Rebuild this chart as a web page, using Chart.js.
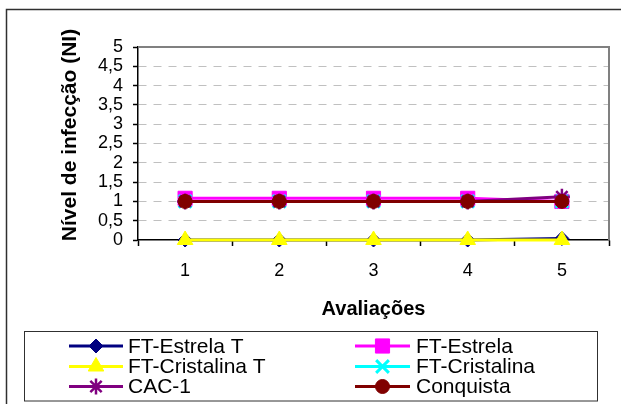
<!DOCTYPE html>
<html>
<head>
<meta charset="utf-8">
<script src="https://cdn.jsdelivr.net/npm/chart.js@4"></script>
<style>
  html, body { margin: 0; padding: 0; background: #fff; }
  #wrap { width: 621px; height: 404px; position: relative; }
</style>
</head>
<body>
<div id="wrap"><canvas id="c" width="621" height="404"></canvas></div>
<script>
// Avaliações (evaluation rounds)
const avaliacoes = ['1', '2', '3', '4', '5'];

// Nível de infecção (NI) per cultivar / treatment
const ftEstrelaT    = [0, 0, 0, 0, 0.04];
const ftEstrela     = [1.08, 1.08, 1.08, 1.08, 1.0];
const ftCristalinaT = [0, 0, 0, 0, 0];
const ftCristalina  = [1, 1, 1, 1, 1];
const cac1          = [1, 1, 1, 1, 1.12];
const conquista     = [1, 1, 1, 1, 1];

const seriesNames = ['FT-Estrela T', 'FT-Estrela', 'FT-Cristalina T', 'FT-Cristalina', 'CAC-1', 'Conquista'];
const yTickLabels = ['0', '0,5', '1', '1,5', '2', '2,5', '3', '3,5', '4', '4,5', '5'];
const xTitle = 'Avaliações';
const yTitle = 'Nível de infecção (NI)';

const FONT = "'Liberation Sans', Arial, sans-serif";

const styles = [
  { color: '#000080', pointStyle: 'rectRot',  radius: 7,  pbw: 1 },
  { color: '#FF00FF', pointStyle: 'rect',     radius: 10, pbw: 1 },
  { color: '#FFFF00', pointStyle: 'triangle', radius: 9,  pbw: 1 },
  { color: '#00FFFF', pointStyle: 'crossRot', radius: 9,  pbw: 3 },
  { color: '#800080', pointStyle: 'star',     radius: 8,  pbw: 2.5 },
  { color: '#800000', pointStyle: 'circle',   radius: 7,  pbw: 1 }
];
const values = [ftEstrelaT, ftEstrela, ftCristalinaT, ftCristalina, cac1, conquista];

const datasets = values.map((v, i) => ({
  label: seriesNames[i],
  data: v,
  borderColor: styles[i].color,
  backgroundColor: styles[i].color,
  borderWidth: 3,
  tension: 0,
  pointStyle: styles[i].pointStyle,
  pointRadius: styles[i].radius,
  pointHoverRadius: styles[i].radius,
  pointBorderWidth: styles[i].pbw,
  pointBackgroundColor: styles[i].color,
  pointBorderColor: styles[i].color,
  clip: false,
  // later series are painted over earlier ones
  order: values.length - i
}));

const decorations = {
  id: 'decorations',
  beforeDraw(chart) {
    const ctx = chart.ctx;
    ctx.save();
    ctx.fillStyle = '#fff';
    ctx.fillRect(0, 0, chart.width, chart.height);
    // outer chart frame
    ctx.strokeStyle = '#303030';
    ctx.lineWidth = 1.5;
    ctx.strokeRect(6.5, 9.5, 700, 500);
    ctx.restore();
  },
  beforeDatasetsDraw(chart) {
    const { ctx, chartArea: a } = chart;
    ctx.save();
    ctx.strokeStyle = '#808080';
    ctx.lineWidth = 2;
    ctx.beginPath();
    ctx.moveTo(a.left, a.top);
    ctx.lineTo(a.right, a.top);
    ctx.lineTo(a.right, a.bottom);
    ctx.stroke();
    ctx.restore();
  },
  afterDraw(chart) {
    const { ctx } = chart;
    ctx.save();
    // y axis title
    ctx.translate(70, 135);
    ctx.rotate(-Math.PI / 2);
    ctx.font = "bold 21px " + FONT;
    ctx.fillStyle = '#000';
    ctx.textAlign = 'center';
    ctx.textBaseline = 'middle';
    ctx.fillText(yTitle, 0, 0);
    ctx.restore();

    // legend box
    ctx.save();
    ctx.strokeStyle = '#303030';
    ctx.lineWidth = 1;
    ctx.strokeRect(24.5, 331.5, 573, 69.5);
    const cols = [{ x0: 69, x1: 123, tx: 128 }, { x0: 355, x1: 410, tx: 416 }];
    const rows = [346, 366.5, 386.5];
    ctx.font = "21px " + FONT;
    ctx.textBaseline = 'middle';
    ctx.textAlign = 'left';
    chart.data.datasets.forEach((ds, i) => {
      const c = cols[i % 2], y = rows[Math.floor(i / 2)];
      const st = styles[i];
      ctx.strokeStyle = st.color;
      ctx.lineWidth = 3;
      ctx.beginPath();
      ctx.moveTo(c.x0, y);
      ctx.lineTo(c.x1, y);
      ctx.stroke();
      ctx.fillStyle = st.color;
      ctx.lineWidth = st.pbw;
      Chart.helpers.drawPoint(ctx, { pointStyle: st.pointStyle, radius: st.radius, rotation: 0, borderWidth: st.pbw }, (c.x0 + c.x1) / 2, y);
      ctx.fillStyle = '#000';
      ctx.fillText(ds.label, c.tx, y + 1);
    });
    ctx.restore();
  }
};

new Chart(document.getElementById('c'), {
  type: 'line',
  data: { labels: avaliacoes, datasets },
  options: {
    responsive: false,
    devicePixelRatio: 1,
    animation: false,
    layout: { padding: { left: 0, top: 47, right: 10, bottom: 0 } },
    plugins: { legend: { display: false }, tooltip: { enabled: false } },
    scales: {
      x: {
        offset: true,
        grid: {
          offset: true,
          drawOnChartArea: false,
          drawTicks: true,
          tickLength: 6,
          tickColor: '#000',
          tickWidth: 1.5
        },
        border: { color: '#000', width: 1.5 },
        ticks: { color: '#000', font: { family: FONT, size: 18 }, padding: 14 },
        title: {
          display: true,
          text: xTitle,
          color: '#000',
          font: { family: FONT, size: 20, weight: 'bold' },
          padding: { top: 0, bottom: 83 }
        },
        afterFit(scale) { scale.height = 164; }
      },
      y: {
        min: 0,
        max: 5,
        ticks: {
          stepSize: 0.5,
          autoSkip: false,
          color: '#000',
          font: { family: FONT, size: 18, lineHeight: 1 },
          padding: 10,
          callback: (v, i) => yTickLabels[i]
        },
        grid: {
          color: (c) => (c.tick && (c.tick.value === 0 || c.tick.value === 5)) ? 'rgba(0,0,0,0)' : '#c0c0c0',
          lineWidth: 1,
          tickColor: '#000',
          tickLength: 5,
          tickWidth: 1.5
        },
        border: { color: '#000', width: 1.5, dash: [8, 7] },
        afterFit(scale) { scale.width = 138; }
      }
    }
  },
  plugins: [decorations]
});
</script>
</body>
</html>
